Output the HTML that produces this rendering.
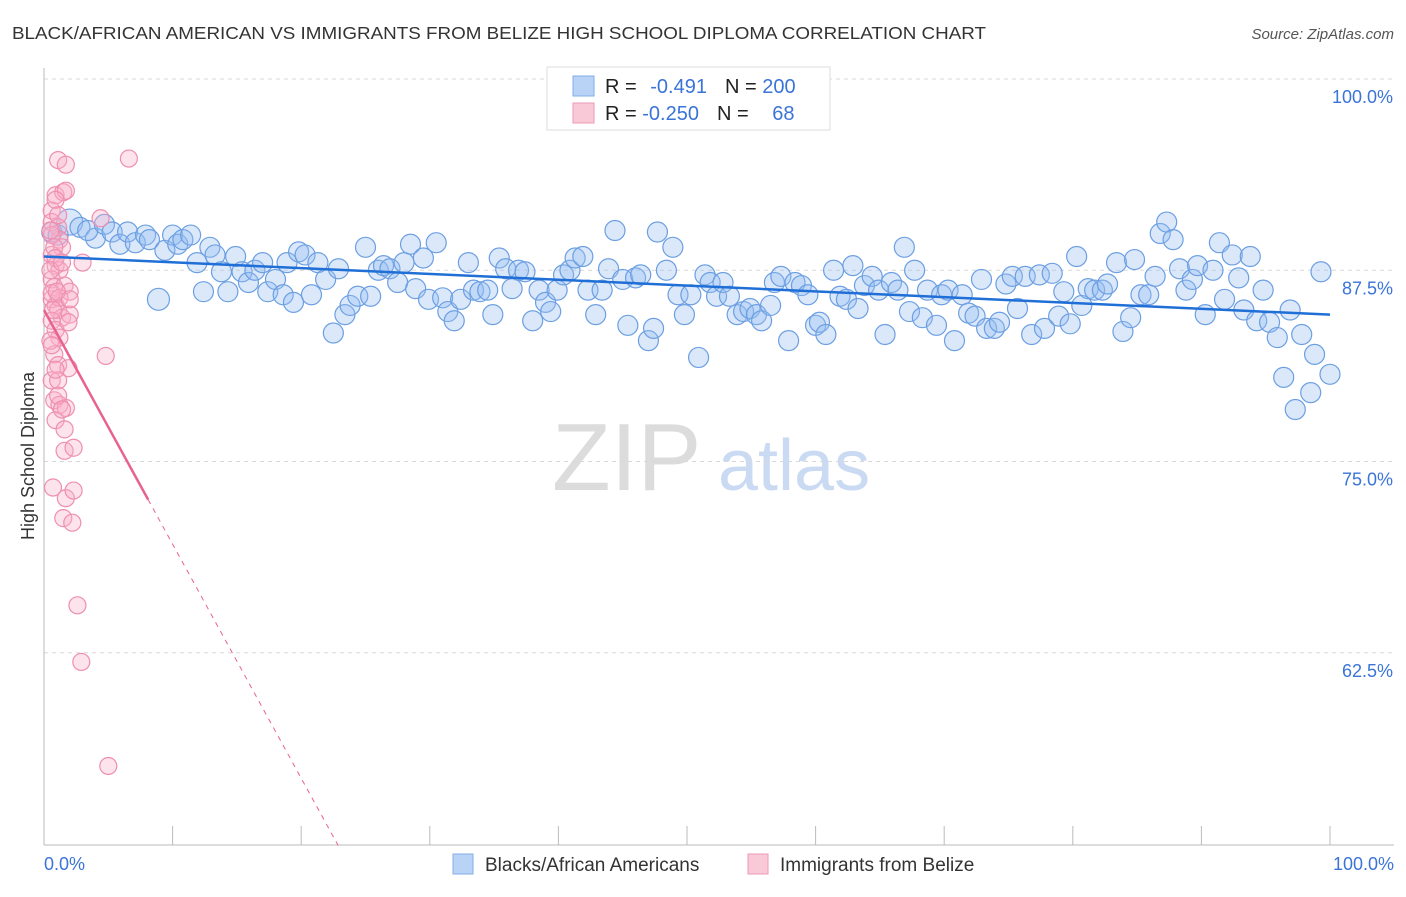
<!DOCTYPE html>
<html><head><meta charset="utf-8">
<style>
body{margin:0;background:#fff;font-family:"Liberation Sans",sans-serif;}
svg text{font-family:"Liberation Sans",sans-serif;}
</style></head>
<body>
<svg id="chart" width="1406" height="892" xmlns="http://www.w3.org/2000/svg">
<text x="12" y="39" font-size="17.5" fill="#333" textLength="974" lengthAdjust="spacingAndGlyphs">BLACK/AFRICAN AMERICAN VS IMMIGRANTS FROM BELIZE HIGH SCHOOL DIPLOMA CORRELATION CHART</text>
<text x="1394" y="39" font-size="15" fill="#555" text-anchor="end" font-style="italic">Source: ZipAtlas.com</text>
<text x="0" y="0" font-size="18" fill="#333" transform="translate(34,456) rotate(-90)" text-anchor="middle">High School Diploma</text>
<g>
<text x="552" y="490" font-size="96" fill="#dcdcdc" font-family="Liberation Serif, serif">ZIP</text>
<text x="718" y="490" font-size="72" fill="#c9daf2">atlas</text>
</g>
<g id="grid"></g>
<g id="axes"></g>
<g id="pts"></g>
<g id="trends"></g>
<g>
<rect x="547" y="67" width="283" height="63" fill="#fff" stroke="#ddd"/>
<rect x="573" y="76" width="21" height="20" fill="#b8d3f5" stroke="#82aee6"/>
<rect x="573" y="103" width="21" height="20" fill="#fac9d8" stroke="#ee9ab6"/>
<text x="605" y="93" font-size="20" fill="#222">R = <tspan fill="#3a74d8" dx="8">-0.491</tspan><tspan dx="18" fill="#222">N = </tspan><tspan fill="#3a74d8">200</tspan></text>
<text x="605" y="120" font-size="20" fill="#222">R = <tspan fill="#3a74d8">-0.250</tspan><tspan dx="18" fill="#222">N = </tspan><tspan fill="#3a74d8" dx="18">68</tspan></text>
</g>
<g>
<rect x="453" y="854" width="20" height="20" fill="#b8d3f5" stroke="#82aee6"/>
<text x="485" y="871" font-size="19" fill="#333">Blacks/African Americans</text>
<rect x="748" y="854" width="20" height="20" fill="#fac9d8" stroke="#ee9ab6"/>
<text x="780" y="871" font-size="19" fill="#333">Immigrants from Belize</text>
</g>
</svg>
<script>
const yTicks=[100,87.5,75,62.5];
const yTickLabels=["100.0%","87.5%","75.0%","62.5%"];
const xTickVals=[0,10,20,30,40,50,60,70,80,90,100];
const blueX=[0.6,1.1,2.0,2.8,4.0,3.4,4.7,5.3,5.9,6.5,7.1,7.9,8.2,8.9,9.4,10.0,10.4,10.8,11.4,11.9,12.4,12.9,13.3,13.8,14.3,14.9,15.4,15.9,16.4,17.0,17.4,18.0,18.6,19.4,18.9,19.8,20.3,20.8,21.3,21.9,22.5,22.9,23.4,23.8,24.4,25.0,25.4,26.0,26.4,26.9,27.5,28.0,28.5,28.9,29.5,29.9,30.5,31.0,31.4,31.9,32.4,33.0,33.4,33.9,34.5,34.9,35.4,35.9,36.4,36.9,37.4,38.0,38.5,39.0,39.4,39.9,40.4,40.9,41.3,41.9,42.3,42.9,43.4,43.9,44.4,45.0,45.4,46.0,46.4,47.0,47.4,47.7,48.4,48.9,49.3,49.8,50.3,50.9,51.4,51.8,52.3,52.8,53.3,53.9,54.4,54.9,55.4,55.8,56.5,56.8,57.3,57.9,58.4,58.9,59.4,60.0,60.3,60.8,61.4,61.9,62.4,62.9,63.3,63.8,64.4,64.9,65.4,65.9,66.4,66.9,67.3,67.7,68.3,68.7,69.4,69.8,70.3,70.8,71.4,71.9,72.4,72.9,73.3,73.9,74.3,74.8,75.3,75.7,76.3,76.8,77.4,77.8,78.4,78.9,79.3,79.8,80.3,80.7,81.2,81.7,82.3,82.7,83.4,83.9,84.5,84.8,85.3,85.9,86.4,86.8,87.3,87.8,88.3,88.8,89.3,89.7,90.3,90.9,91.4,91.8,92.4,92.9,93.3,93.8,94.3,94.8,95.3,95.9,96.4,96.9,97.3,97.8,98.5,98.8,99.3,100];
const blueY=[90.0,89.8,90.65,90.3,89.6,90.1,90.5,90.0,89.2,90.0,89.3,89.8,89.5,85.6,88.8,89.8,89.2,89.5,89.8,88.0,86.1,89.0,88.5,87.4,86.1,88.4,87.4,86.7,87.5,88.0,86.1,86.9,85.9,85.4,88.0,88.7,88.5,85.9,88.0,86.9,83.4,87.6,84.6,85.2,85.8,89.0,85.8,87.5,87.8,87.6,86.7,88.0,89.2,86.3,88.3,85.6,89.3,85.7,84.8,84.2,85.6,88.0,86.2,86.1,86.2,84.6,88.3,87.6,86.3,87.5,87.4,84.2,86.2,85.4,84.8,86.2,87.2,87.5,88.3,88.4,86.2,84.6,86.2,87.6,90.1,86.9,83.9,87.0,87.2,82.9,83.7,90.0,87.5,89.0,85.9,84.6,85.9,81.8,87.2,86.7,85.8,86.7,85.8,84.6,84.8,85.0,84.6,84.2,85.2,86.7,87.1,82.9,86.7,86.5,85.9,83.9,84.1,83.3,87.5,85.8,85.6,87.8,85.0,86.5,87.1,86.2,83.3,86.7,86.2,89.0,84.8,87.5,84.4,86.2,83.9,85.9,86.2,82.9,85.9,84.7,84.5,86.9,83.7,83.7,84.1,86.6,87.1,85.0,87.1,83.3,87.2,83.7,87.3,84.5,86.1,84.0,88.4,85.2,86.3,86.2,86.2,86.6,88.0,83.5,84.4,88.2,85.9,85.9,87.1,89.9,90.65,89.5,87.6,86.2,86.9,87.8,84.6,87.5,89.3,85.6,88.5,87.0,84.9,88.4,84.2,86.2,84.1,83.1,80.5,84.9,78.4,83.3,79.5,82.0,87.4,80.7];
const pinkX=[1.1,1.7,6.6,0.9,1.5,1.7,0.6,4.4,0.6,1.1,1.2,1.4,3.0,0.6,0.9,1.2,0.6,0.8,1.6,2.0,0.6,0.9,1.1,1.4,2.0,0.6,0.9,1.2,0.8,1.1,4.8,1.9,0.6,1.1,0.8,1.2,1.7,0.9,1.6,2.3,0.7,1.7,2.3,1.5,2.2,2.6,2.9,5.0,0.6,0.8,0.9,0.5,0.6,1.2,1.9,0.5,0.6,0.9,1.1,1.4,1.6,0.9,1.1,0.5,0.7,1.0,1.4,2.0];
const pinkY=[94.7,94.4,94.8,92.4,92.6,92.7,91.4,90.9,90.65,90.3,89.5,89.0,88.0,88.5,87.8,87.5,86.9,86.4,86.5,86.1,85.6,85.2,84.9,84.4,84.6,84.2,83.6,83.1,82.0,81.3,81.9,81.1,80.3,80.3,79.0,78.7,78.5,77.7,75.7,75.9,73.3,72.6,73.1,71.3,71.0,65.6,61.9,55.1,89.8,89.0,88.3,87.5,86.0,85.7,84.1,82.9,82.6,81.0,79.3,78.4,77.1,92.1,91.1,90.1,84.9,86.1,88.0,85.6];
const blueTrend=[88.4,84.6]; // values at x=0 and x=100
const pinkTrend=[84.9,-1.53]; // intercept, slope
const pinkSolidEnd=8.1;
const X=x=>44+x*12.86, Y=v=>79+(100-v)*15.3;
const NS="http://www.w3.org/2000/svg";
function mk(tag,attrs,parent){const e=document.createElementNS(NS,tag);for(const k in attrs)e.setAttribute(k,attrs[k]);parent.appendChild(e);return e;}
const grid=document.getElementById('grid'),axes=document.getElementById('axes'),pts=document.getElementById('pts'),tr=document.getElementById('trends');
yTicks.forEach((t,i)=>{
 const l=mk('line',{x1:44,x2:1394,y1:Y(t),y2:Y(t),stroke:'#d8d8d8','stroke-dasharray':'4,4'},grid);
 
 
 const tx=mk('text',{x:1393,y:Y(t)+24,'text-anchor':'end','font-size':18,fill:'#3a74d8'},axes);
 tx.textContent=yTickLabels[i];
 
 
});
let a=mk('line',{x1:44,x2:44,y1:68,y2:845,stroke:'#bbb'},axes);


a=mk('line',{x1:44,x2:1394,y1:845,y2:845,stroke:'#bbb'},axes);


xTickVals.forEach(t=>{
 const l=mk('line',{x1:X(t),x2:X(t),y1:826,y2:845,stroke:'#bbb'},axes);
 
 
});
let t0=mk('text',{x:44,y:870,'font-size':18,fill:'#3a74d8'},axes);t0.textContent='0.0%';


t0=mk('text',{x:1394,y:870,'font-size':18,fill:'#3a74d8','text-anchor':'end'},axes);t0.textContent='100.0%';


blueX.forEach((x,i)=>{
 const r=(i===2)?13:(i===13?11:10);
 const c=mk('circle',{cx:X(x),cy:Y(blueY[i]),r:r,fill:'rgba(150,190,240,0.35)',stroke:'#6c9fe2','stroke-width':1.2},pts);
 
 
});
pinkX.forEach((x,i)=>{
 const c=mk('circle',{cx:X(x),cy:Y(pinkY[i]),r:8.5,fill:'rgba(248,175,200,0.35)',stroke:'#ee8fb0','stroke-width':1.2},pts);
 
 
});
let b=mk('line',{x1:X(0),y1:Y(blueTrend[0]),x2:X(100),y2:Y(blueTrend[1]),stroke:'#1f6fd6','stroke-width':2.5},tr);


const pv=x=>pinkTrend[0]+pinkTrend[1]*x;
const endX=(pinkTrend[0]-49.9)/(-pinkTrend[1]);
b=mk('line',{x1:X(0),y1:Y(pv(0)),x2:X(pinkSolidEnd),y2:Y(pv(pinkSolidEnd)),stroke:'#e8628f','stroke-width':2.5},tr);


b=mk('line',{x1:X(pinkSolidEnd),y1:Y(pv(pinkSolidEnd)),x2:X(endX),y2:Y(pv(endX)),stroke:'#e8628f','stroke-width':1,'stroke-dasharray':'5,5'},tr);


</script>
</body></html>
